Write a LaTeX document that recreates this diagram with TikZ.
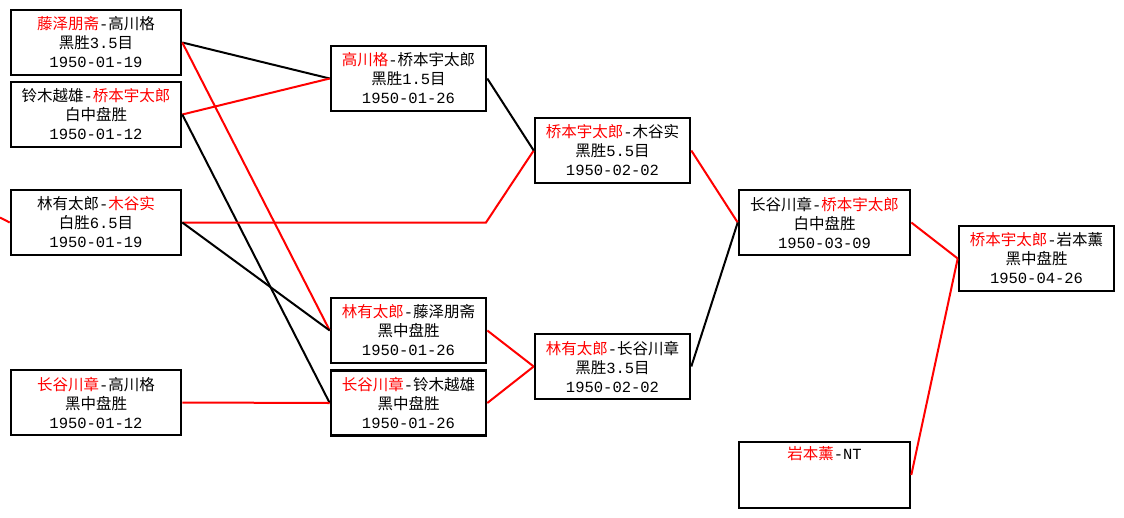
\documentclass[tikz,border=0pt]{standalone}
\usepackage{fontspec}
\setmainfont{Liberation Mono}
\newfontfamily\cjkf{Noto Sans CJK SC}
\newcommand\zh[1]{{\cjkf #1}}
\definecolor{wred}{RGB}{255,0,0}
\newcommand\wn[1]{\textcolor{wred}{\zh{#1}}}
\begin{document}
\begin{tikzpicture}[x=1pt,y=-1pt,
  box/.style={draw=black, line width=2.6pt, fill=white, inner sep=0pt, align=center,
    font=\fontsize{15.5}{19}\selectfont, text=black},
  rA/.style={box, minimum width=170pt, minimum height=65pt},
  rB/.style={box, minimum width=155pt, minimum height=65pt},
  bl/.style={draw=black, line width=2pt},
  rd/.style={draw=wred, line width=2pt}
]
\fill[white] (0,0) rectangle (1124,517);
\useasboundingbox (0,0) rectangle (1124,517);
% boxes
\node[rA] (A) at (96,42.5) {\wn{藤泽朋斋}-\zh{高川格}\\\zh{黑胜}3.5\zh{目}\\1950-01-19};
\node[rA] (B) at (96,114.5) {\zh{铃木越雄}-\wn{桥本宇太郎}\\\zh{白中盘胜}\\1950-01-12};
\node[rA] (C) at (96,222.5) {\zh{林有太郎}-\wn{木谷实}\\\zh{白胜}6.5\zh{目}\\1950-01-19};
\node[rA] (D) at (96,402.5) {\wn{长谷川章}-\zh{高川格}\\\zh{黑中盘胜}\\1950-01-12};
\node[rB] (E) at (408.5,78.5) {\wn{高川格}-\zh{桥本宇太郎}\\\zh{黑胜}1.5\zh{目}\\1950-01-26};
\node[rB] (F) at (408.5,330.5) {\wn{林有太郎}-\zh{藤泽朋斋}\\\zh{黑中盘胜}\\1950-01-26};
\node[rB] (G) at (408.5,403) {\wn{长谷川章}-\zh{铃木越雄}\\\zh{黑中盘胜}\\1950-01-26};
\node[rB] (H) at (612.5,150.5) {\wn{桥本宇太郎}-\zh{木谷实}\\\zh{黑胜}5.5\zh{目}\\1950-02-02};
\node[rB] (I) at (612.5,366.5) {\wn{林有太郎}-\zh{长谷川章}\\\zh{黑胜}3.5\zh{目}\\1950-02-02};
\node[rA,minimum width=171pt] (J) at (824.5,222.5) {\zh{长谷川章}-\wn{桥本宇太郎}\\\zh{白中盘胜}\\1950-03-09};
\node[rA,minimum width=171pt,minimum height=66pt] (K) at (824.5,475) {\wn{岩本薰}-NT\\\strut\\\strut};
\node[rB] (L) at (1036.5,258.5) {\wn{桥本宇太郎}-\zh{岩本薰}\\\zh{黑中盘胜}\\1950-04-26};
% free points
\coordinate (cin) at (0,217.5);
\coordinate (cbend) at (486,222.5);
% connectors
\draw[rd] (cin) -- (C.west);
\draw[bl] (A.east) -- (E.west);
\draw[rd] (A.east) -- (F.west);
\draw[rd] (B.east) -- (E.west);
\draw[bl] (B.east) -- (G.west);
\draw[rd] (C.east) -- (cbend) -- (H.west);
\draw[bl] (C.east) -- (F.west);
\draw[rd] (D.east) -- (G.west);
\draw[bl] (E.east) -- (H.west);
\draw[rd] (F.east) -- (I.west);
\draw[rd] (G.east) -- (I.west);
\draw[rd] (H.east) -- (J.west);
\draw[bl] (I.east) -- (J.west);
\draw[rd] (J.east) -- (L.west);
\draw[rd] (K.east) -- (L.west);
\end{tikzpicture}
\end{document}
